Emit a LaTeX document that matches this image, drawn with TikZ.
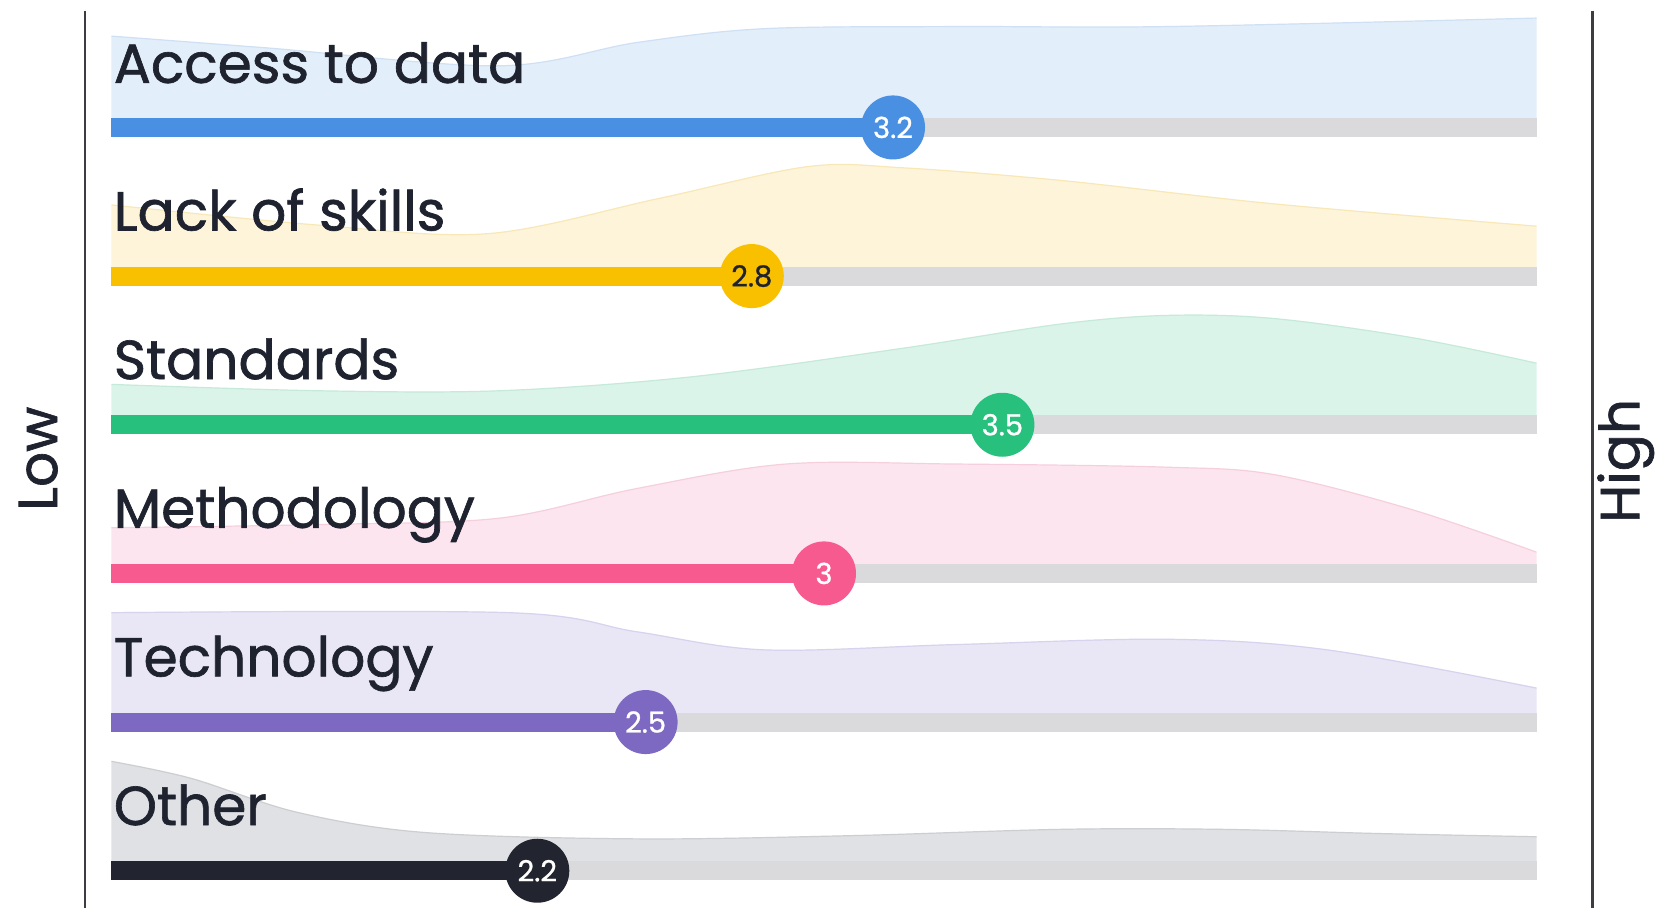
\documentclass[tikz,border=0pt]{standalone}
\usepackage{fontspec}
\setmainfont{Poppins}
\newfontfamily\medfont{Poppins}[FakeBold=1.2]
\newfontfamily\digfont{Poppins}[FakeBold=0.8]
\definecolor{cBlue}{HTML}{4A90E2}
\definecolor{aBlue}{HTML}{E2EEFA}
\definecolor{eBlue}{HTML}{CFE0F4}
\definecolor{cYel}{HTML}{F9C000}
\definecolor{aYel}{HTML}{FDF4DA}
\definecolor{eYel}{HTML}{F8E8B8}
\definecolor{cGrn}{HTML}{27C07D}
\definecolor{aGrn}{HTML}{DBF4EA}
\definecolor{eGrn}{HTML}{C5EAD9}
\definecolor{cPnk}{HTML}{F65A8E}
\definecolor{aPnk}{HTML}{FCE5EE}
\definecolor{ePnk}{HTML}{F6CFDD}
\definecolor{cPur}{HTML}{7E69C2}
\definecolor{aPur}{HTML}{E9E6F6}
\definecolor{ePur}{HTML}{D7D2EE}
\definecolor{cBlk}{HTML}{22242F}
\definecolor{aBlk}{HTML}{DFE1E4}
\definecolor{eBlk}{HTML}{CCCED2}
\definecolor{trackc}{HTML}{DADADC}
\definecolor{ink}{HTML}{1F2330}
\definecolor{axisc}{HTML}{3C3C42}
\newcommand\myarea[4]{%
  \fill[#1] (105,#3) -- plot[smooth,tension=0.55] coordinates {#4} -- (1447,#3) -- cycle;
  \draw[#2, line width=1.2pt] plot[smooth,tension=0.55] coordinates {#4};}
\tikzset{
  barline/.style={line width=19pt},
  trackline/.style={line width=19pt, trackc},
  valdot/.style={circle, minimum size=64pt, inner sep=0pt, text=white,
    font=\digfont\fontsize{29}{29}\selectfont},
  lbl/.style={anchor=base west, inner sep=0pt, text=ink,
    font=\medfont\fontsize{55}{55}\selectfont},
  axislbl/.style={rotate=90, inner sep=0pt, text=ink,
    font=\medfont\fontsize{55}{55}\selectfont},
  axisline/.style={axisc, line width=2.8pt}
}
\begin{document}
\begin{tikzpicture}[x=1.0619pt,y=-1.0619pt]
\useasboundingbox (0,0) rectangle (1568,855);
\fill[white] (0,0) rectangle (1568,855);

% areas
\myarea{aBlue}{eBlue}{120}{(105,34) (250,45) (470,62) (600,40) (720,27) (900,25) (1100,25) (1447,17)}
\myarea{aYel}{eYel}{260}{(105,193) (300,212) (460,220) (620,187) (760,157) (850,158) (1000,170) (1200,192) (1447,213)}
\myarea{aGrn}{eGrn}{400}{(105,362) (300,368) (470,368) (650,355) (850,328) (1000,305) (1100,297) (1200,300) (1330,318) (1447,342)}
\myarea{aPnk}{ePnk}{540}{(105,497) (300,494) (470,488) (600,460) (740,437) (900,437) (1100,440) (1200,447) (1330,480) (1447,520)}
\myarea{aPur}{ePur}{680}{(105,577) (480,577) (600,595) (720,612) (900,607) (1100,602) (1250,612) (1447,648)}
\myarea{aBlk}{eBlk}{820}{(105,717) (180,733) (280,765) (400,784) (600,790) (800,787) (1000,781) (1150,781) (1300,785) (1447,788)}

% track endpoints
\coordinate (s1) at (105,120); \coordinate (e1) at (1447,120);
\coordinate (s2) at (105,260); \coordinate (e2) at (1447,260);
\coordinate (s3) at (105,400); \coordinate (e3) at (1447,400);
\coordinate (s4) at (105,540); \coordinate (e4) at (1447,540);
\coordinate (s5) at (105,680); \coordinate (e5) at (1447,680);
\coordinate (s6) at (105,820); \coordinate (e6) at (1447,820);
\foreach \i in {1,...,6}{\draw[trackline] (s\i) -- (e\i);}

% value dots (positions)
\coordinate (p1) at (841,120);
\coordinate (p2) at (708,260);
\coordinate (p3) at (944,400);
\coordinate (p4) at (776,540);
\coordinate (p5) at (608,680);
\coordinate (p6) at (506,820);

\draw[barline, cBlue] (s1) -- (p1);
\draw[barline, cYel] (s2) -- (p2);
\draw[barline, cGrn] (s3) -- (p3);
\draw[barline, cPnk] (s4) -- (p4);
\draw[barline, cPur] (s5) -- (p5);
\draw[barline, cBlk] (s6) -- (p6);

\node[valdot, fill=cBlue] (v1) at (p1) {3.2};
\node[valdot, fill=cYel, text=ink] (v2) at (p2) {2.8};
\node[valdot, fill=cGrn] (v3) at (p3) {3.5};
\node[valdot, fill=cPnk] (v4) at (p4) {3};
\node[valdot, fill=cPur] (v5) at (p5) {2.5};
\node[valdot, fill=cBlk] (v6) at (p6) {2.2};

% labels
\node[lbl] (l1) at (107,78) {Access to data};
\node[lbl] (l2) at (107,217) {Lack of skills};
\node[lbl] (l3) at (107,357) {Standards};
\node[lbl] (l4) at (107,497) {Methodology};
\node[lbl] (l5) at (107,637) {Technology};
\node[lbl] (l6) at (107,777) {Other};

% axes
\coordinate (la) at (80,10); \coordinate (lb) at (80,855);
\coordinate (ra) at (1500,10); \coordinate (rb) at (1500,855);
\draw[axisline] (la) -- (lb);
\draw[axisline] (ra) -- (rb);
\node[axislbl] (low) at (36,432) {Low};
\node[axislbl] (high) at (1531,434) {High};
\end{tikzpicture}
\end{document}
